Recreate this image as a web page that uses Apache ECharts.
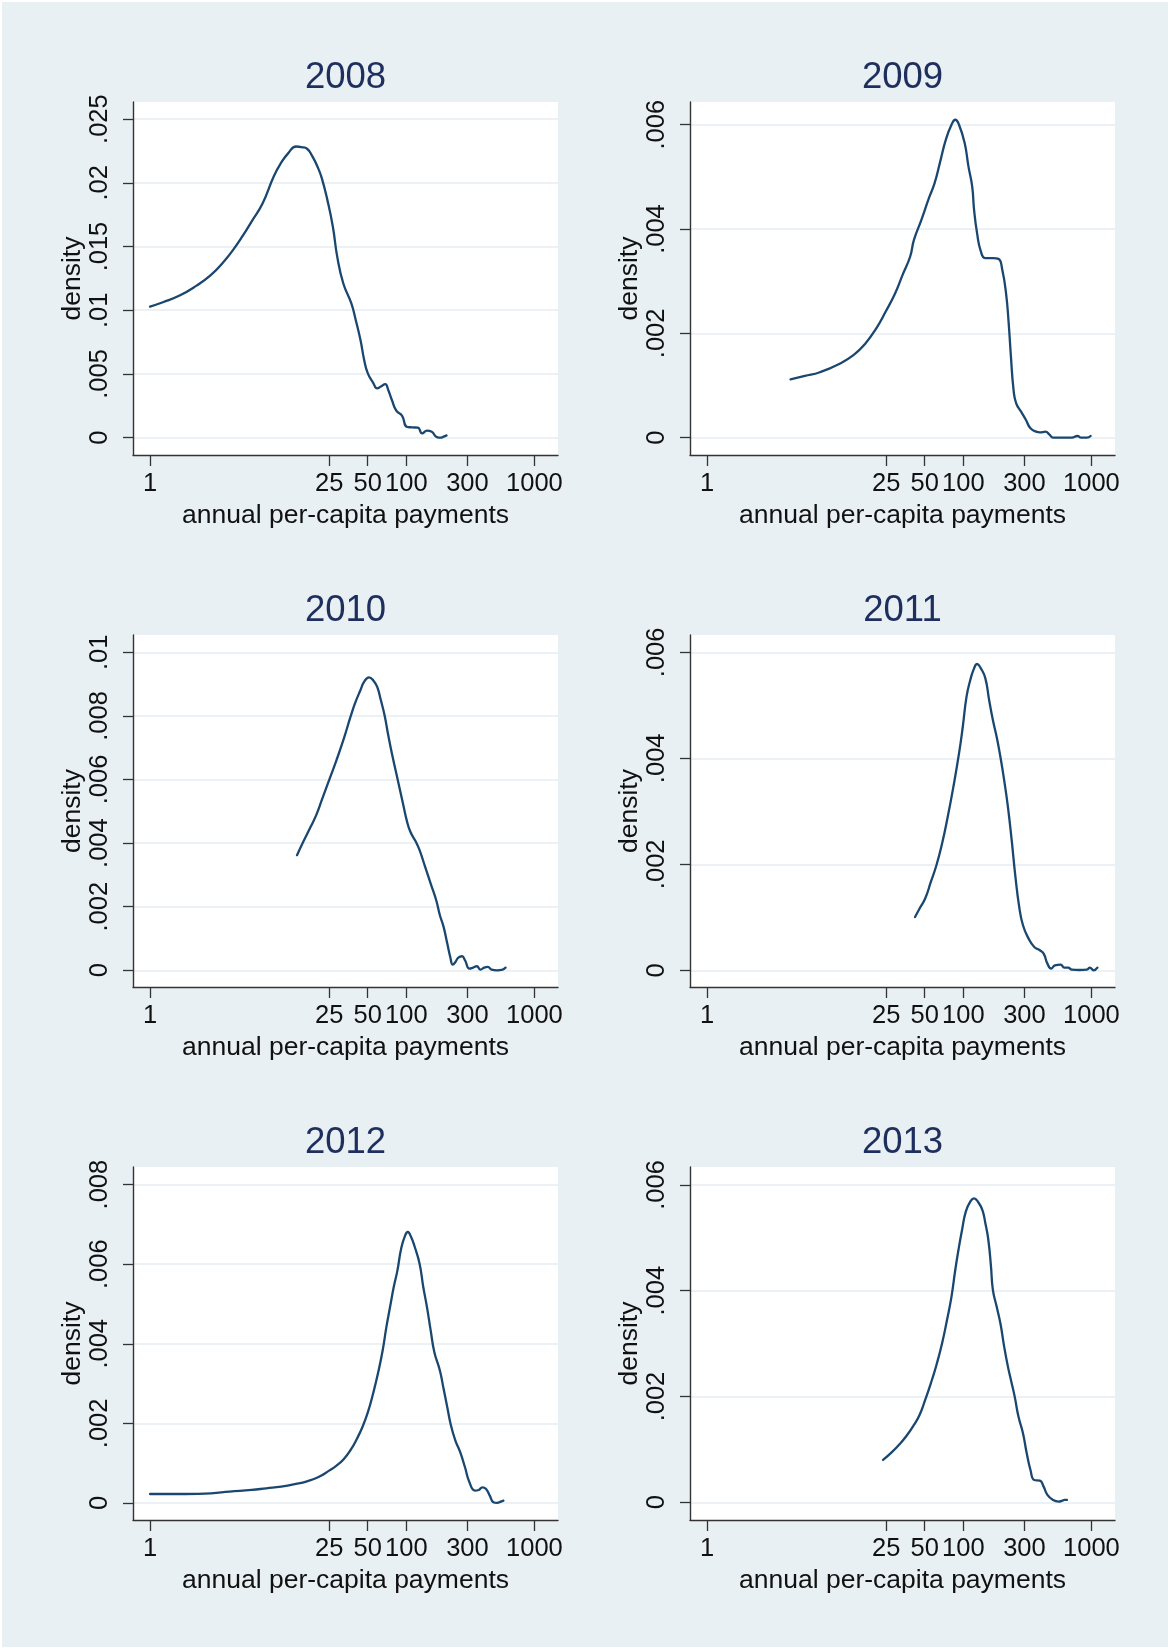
<!DOCTYPE html>
<html>
<head>
<meta charset="utf-8">
<script src="https://cdn.jsdelivr.net/npm/echarts@6/dist/echarts.min.js"></script>
<style>
  html, body { margin: 0; padding: 0; background: #ffffff; }
  #bg { position: absolute; left: 2px; top: 2px; width: 1166px; height: 1645px; background: #e9f0f3; }
  #chart { position: absolute; left: 0; top: 0; width: 1168px; height: 1649px; }
</style>
</head>
<body>
<div id="bg"></div>
<div id="chart"></div>
<script>
// ---- data ----
const years = ['2008', '2009', '2010', '2011', '2012', '2013'];
const xTicks = [1, 25, 50, 100, 300, 1000];

const yTicks2008 = [0, 0.005, 0.01, 0.015, 0.02, 0.025];
const yTicks2009 = [0, 0.002, 0.004, 0.006];
const yTicks2010 = [0, 0.002, 0.004, 0.006, 0.008, 0.01];
const yTicks2011 = [0, 0.002, 0.004, 0.006];
const yTicks2012 = [0, 0.002, 0.004, 0.006, 0.008];
const yTicks2013 = [0, 0.002, 0.004, 0.006];

const pay2008 = [1.00,1.26,1.70,2.29,2.99,3.77,4.45,5.25,6.20,7.57,9.23,10.5,12.0,13.8,15.2,16.8,18.5,20.5,21.9,24.2,26.7,28.9,32.2,37.2,40.3,43.9,46.9,50.1,55.4,59.2,63.3,68.5,72.3,77.2,83.6,93.0,100.7,111.2,122.8,133.0,145.0,158.1,171.2,185.4,195.5,206.1];
const dens2008 = [0.01029,0.01063,0.01115,0.01191,0.01277,0.01382,0.01474,0.01579,0.01696,0.01840,0.02050,0.02154,0.02233,0.02285,0.02280,0.02267,0.02207,0.02115,0.02037,0.01866,0.01657,0.01421,0.01212,0.01055,0.00924,0.00767,0.00610,0.00505,0.00427,0.00387,0.00401,0.00421,0.00374,0.00296,0.00212,0.00170,0.00086,0.00081,0.00079,0.00034,0.00055,0.00047,0.00008,0.00000,0.00008,0.00018];

const pay2009 = [4.48,5.80,7.60,10.65,13.96,17.10,20.94,24.8,29.4,33.6,38.5,41.2,47.1,53.9,59.7,66.1,73.1,80.9,86.6,92.6,102.5,109.7,117.3,121.4,128.1,137.1,148.7,170.2,188.3,201.5,215.6,226.1,235.4,246.8,258.8,282.5,308.5,334.5,370.3,396.1,438.4,469.1,501.8,574.5,703.7,778.6,833.0,922.1,986.5];
const dens2009 = [0.001119,0.001183,0.001254,0.001407,0.001586,0.001798,0.002098,0.002418,0.002770,0.003122,0.003474,0.003793,0.004177,0.004593,0.004881,0.005297,0.005713,0.006000,0.006096,0.006000,0.005649,0.005201,0.004817,0.004369,0.003921,0.003570,0.003442,0.003442,0.003429,0.003218,0.002770,0.002194,0.001554,0.000915,0.000659,0.000499,0.000339,0.000179,0.000115,0.000102,0.000115,0.000064,0,0,0,0.000032,0,0,0.000032];

const pay2010 = [14.03,15.70,17.93,19.81,21.88,24.98,28.53,32.58,36.72,39.77,43.92,46.94,51.16,55.41,59.20,63.27,67.61,72.25,77.21,85.27,94.21,100.7,107.6,118.8,127.0,140.3,155.0,171.2,182.9,195.5,208.9,220.3,230.7,241.7,254.9,272.4,287.2,311.1,332.4,355.2,379.6,405.7,433.5,463.3,511.7,565.2,596.0];
const dens2010 = [0.003620,0.004040,0.004512,0.004879,0.005351,0.005981,0.006611,0.007293,0.007975,0.008394,0.008814,0.009076,0.009213,0.009108,0.008919,0.008499,0.008027,0.007398,0.006820,0.006033,0.005247,0.004722,0.004355,0.004040,0.003777,0.003253,0.002728,0.002204,0.001731,0.001364,0.000839,0.000420,0.000178,0.000262,0.000399,0.000441,0.000315,0.000052,0.000084,0.000126,0.000021,0.000084,0.000105,0.000021,0,0.000021,0.000084];

const pay2011 = [42.0,45.6,50.4,55.8,61.7,68.3,75.6,83.7,92.6,99.1,106.0,113.4,121.4,128.1,137.1,148.7,159.1,170.2,182.1,194.8,208.4,223.0,238.6,255.3,273.2,292.3,323.5,357.9,396.1,423.8,453.5,485.2,519.2,574.5,614.8,657.7,703.7,805.6,922.1,973.4,1041.3,1114.2];
const dens2011 = [0.001007,0.001165,0.001354,0.001668,0.001983,0.002392,0.002896,0.003463,0.004092,0.004596,0.005163,0.005478,0.005698,0.005780,0.005698,0.005509,0.005100,0.004722,0.004407,0.004029,0.003589,0.003085,0.002455,0.001763,0.001196,0.000850,0.000598,0.000441,0.000378,0.000315,0.000126,0.000031,0.000094,0.000107,0.000050,0.000050,0.000013,0.000006,0.000013,0.000050,0,0.000050];

const pay2012 = [1.00,1.88,2.99,4.17,6.20,8.09,10.55,13.75,16.78,20.48,24.98,28.53,32.58,37.21,41.11,45.40,50.15,55.41,60.00,65.38,69.90,74.68,79.80,85.27,91.13,97.39,102.7,109.0,116.5,127.0,135.7,145.0,155.0,165.6,182.9,195.5,208.9,223.2,241.7,263.5,287.2,311.1,343.6,367.2,392.5,419.4,448.2,478.8,511.7,547.0,572.8];
const dens2012 = [0.000226,0.000226,0.000243,0.000285,0.000327,0.000369,0.000411,0.000478,0.000545,0.000646,0.000813,0.000939,0.001107,0.001359,0.001610,0.001904,0.002281,0.002784,0.003245,0.003832,0.004419,0.004923,0.005426,0.005845,0.006390,0.006700,0.006809,0.006684,0.006432,0.006013,0.005426,0.004923,0.004336,0.003790,0.003329,0.002868,0.002407,0.001946,0.001568,0.001275,0.000897,0.000520,0.000310,0.000327,0.000394,0.000352,0.000184,0.000017,0,0.000034,0.000059];

const pay2013 = [23.65,27.44,31.41,35.96,41.16,45.56,50.41,55.80,61.74,68.33,74.62,80.91,86.57,92.62,97.77,104.6,113.4,121.4,129.9,140.8,148.7,156.9,164.5,170.2,182.1,194.8,208.4,223.0,235.4,251.9,269.5,292.3,312.7,334.5,357.9,396.1,423.8,453.5,501.8,555.4,594.3,614.7,644.6];
const dens2013 = [0.000800,0.000939,0.001084,0.001254,0.001462,0.001651,0.001935,0.002250,0.002597,0.003007,0.003448,0.003889,0.004393,0.004834,0.005150,0.005496,0.005685,0.005748,0.005685,0.005528,0.005276,0.004960,0.004456,0.004015,0.003700,0.003385,0.002944,0.002565,0.002313,0.001998,0.001620,0.001305,0.000927,0.000611,0.000422,0.000410,0.000296,0.000139,0.000044,0.000013,0.000032,0.000044,0.000044];

const xTitle = 'annual per-capita payments';
const yTitle = 'density';

// ---- layout ----
const FONT = 'Liberation Sans, Arial, Helvetica, sans-serif';
const panels = [
  { pay: pay2008, dens: dens2008, ticks: yTicks2008, yMin: -0.001358, yMax: 0.02634,  left: 133, top: 102,  height: 353 },
  { pay: pay2009, dens: dens2009, ticks: yTicks2009, yMin: -0.000332, yMax: 0.006436, left: 690, top: 102,  height: 353 },
  { pay: pay2010, dens: dens2010, ticks: yTicks2010, yMin: -0.000526, yMax: 0.010545, left: 133, top: 635,  height: 352 },
  { pay: pay2011, dens: dens2011, ticks: yTicks2011, yMin: -0.000315, yMax: 0.006327, left: 690, top: 635,  height: 352 },
  { pay: pay2012, dens: dens2012, ticks: yTicks2012, yMin: -0.000428, yMax: 0.008443, left: 133, top: 1167, height: 353 },
  { pay: pay2013, dens: dens2013, ticks: yTicks2013, yMin: -0.000335, yMax: 0.00634,  left: 690, top: 1167, height: 353 }
];
const gridW = 425;
const titleY = [78, 78, 611, 611, 1143, 1143];

function fmtY(v) {
  if (Math.abs(v) < 1e-12) return '0';
  return String(parseFloat(Number(v).toFixed(4))).replace(/^0\./, '.');
}

const axisColor = '#333333';
const textColor = '#111111';

const option = {
  backgroundColor: 'transparent',
  animation: false,
  title: [],
  grid: [],
  xAxis: [],
  yAxis: [],
  series: []
};

panels.forEach((p, i) => {
  option.title.push({
    text: years[i],
    left: p.left + gridW / 2,
    top: titleY[i],
    textAlign: 'center',
    textVerticalAlign: 'middle',
    padding: 0,
    textStyle: { fontFamily: FONT, fontSize: 36.5, fontWeight: 'normal', color: '#1e2f5e' }
  });
  option.grid.push({
    left: p.left, top: p.top, width: gridW, height: p.height,
    show: true, backgroundColor: '#ffffff', borderWidth: 0, containLabel: false
  });
  option.xAxis.push({
    type: 'log',
    logBase: 10,
    gridIndex: i,
    min: 0.736,
    max: 1528,
    name: xTitle,
    nameLocation: 'middle',
    nameGap: 47,
    nameTextStyle: { fontFamily: FONT, fontSize: 26.5, color: textColor },
    axisLine: { show: true, onZero: false, lineStyle: { color: axisColor, width: 1.4 } },
    axisTick: { show: true, length: 11, inside: false, lineStyle: { color: axisColor, width: 1.3 }, customValues: xTicks },
    axisLabel: {
      show: true, margin: 16, fontFamily: FONT, fontSize: 25.5, color: textColor,
      customValues: xTicks,
      formatter: v => String(Math.round(v))
    },
    splitLine: { show: false },
    minorTick: { show: false },
    minorSplitLine: { show: false }
  });
  option.yAxis.push({
    type: 'value',
    gridIndex: i,
    min: p.yMin,
    max: p.yMax,
    name: yTitle,
    nameLocation: 'middle',
    nameRotate: 90,
    nameGap: 45,
    nameTextStyle: { fontFamily: FONT, fontSize: 26.5, color: textColor },
    axisLine: { show: true, onZero: false, lineStyle: { color: axisColor, width: 1.4 } },
    axisTick: { show: true, length: 10, inside: false, lineStyle: { color: axisColor, width: 1.3 }, customValues: p.ticks },
    axisLabel: {
      show: true, rotate: 90, margin: 20, fontFamily: FONT, fontSize: 25.5, color: textColor,
      customValues: p.ticks,
      formatter: fmtY
    },
    splitLine: { show: true, lineStyle: { color: '#e4edf1', width: 1.6 } }
  });
  option.series.push({
    type: 'line',
    xAxisIndex: i,
    yAxisIndex: i,
    data: p.pay.map((x, k) => [x, p.dens[k]]),
    showSymbol: false,
    symbol: 'none',
    smooth: 0.5,
    clip: true,
    lineStyle: { color: '#1a476f', width: 2.3, join: 'round', cap: 'round' }
  });
});

const chart = echarts.init(document.getElementById('chart'), null, { renderer: 'canvas', width: 1168, height: 1649 });
chart.setOption(option);
</script>
</body>
</html>
